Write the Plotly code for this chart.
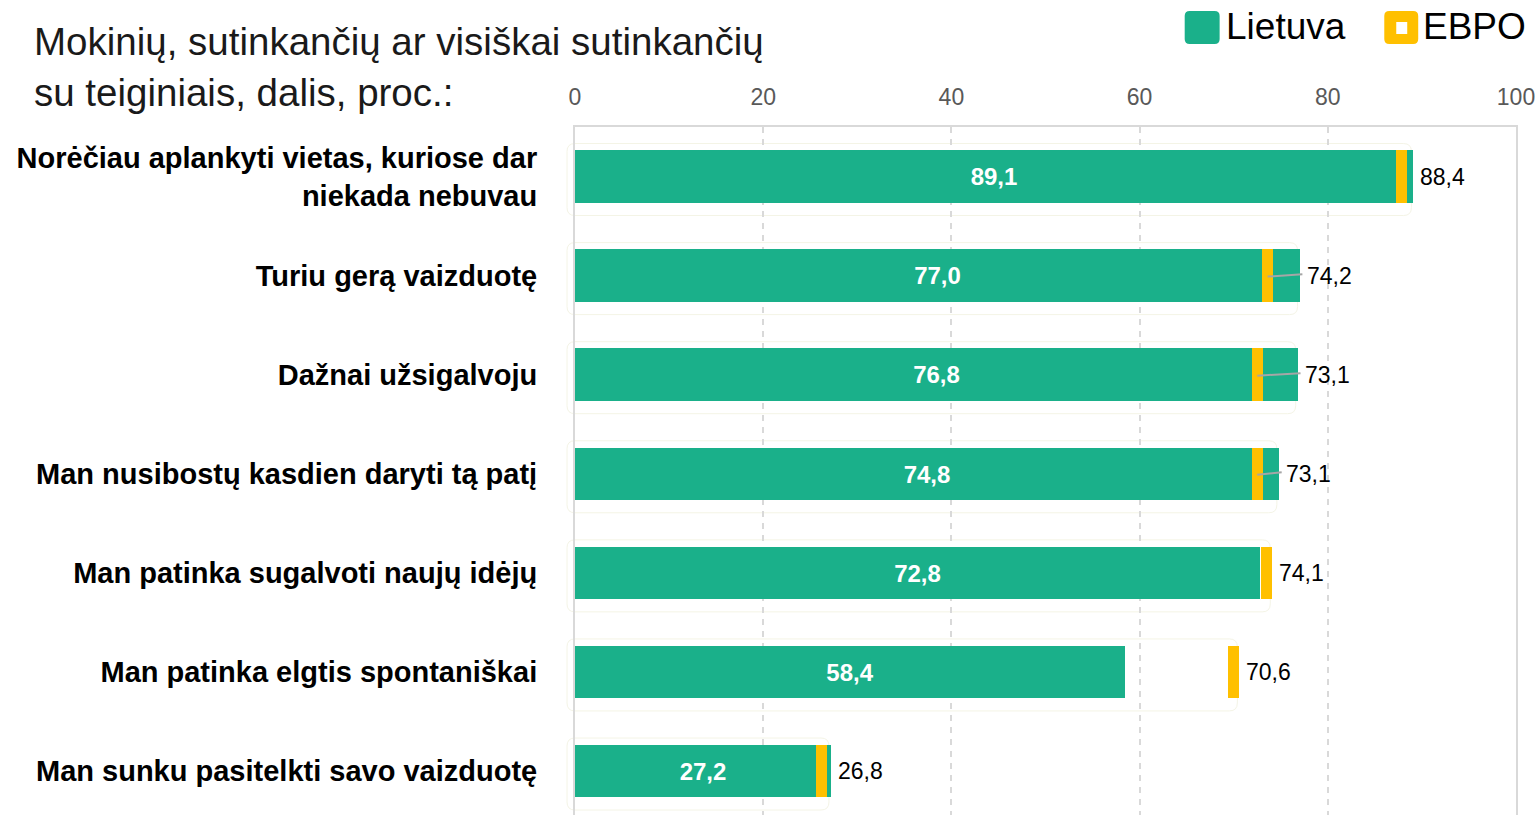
import plotly.graph_objects as go

# Survey statements (top to bottom) and shares of agreeing students, %
categories = [
    "Norėčiau aplankyti vietas, kuriose dar<br>niekada nebuvau",
    "Turiu gerą vaizduotę",
    "Dažnai užsigalvoju",
    "Man nusibostų kasdien daryti tą patį",
    "Man patinka sugalvoti naujų idėjų",
    "Man patinka elgtis spontaniškai",
    "Man sunku pasitelkti savo vaizduotę",
]
lietuva = [89.1, 77.0, 76.8, 74.8, 72.8, 58.4, 27.2]
ebpo = [88.4, 74.2, 73.1, 73.1, 74.1, 70.6, 26.8]
x_ticks = [0, 20, 40, 60, 80, 100]

GREEN = "#1AB08A"
YELLOW = "#FFC000"
GRID = "#D9D9D9"
FONT = "Liberation Sans, Arial, sans-serif"

W, H = 1535, 815
ML, MR, MT, MB = 575, 17, 127, 0
PW, PH = W - ML - MR, H - MT - MB
MARK_W = 1.2      # width of the OECD marker, in axis units
BAR_W = 0.53


def fmt(v):
    return f"{v:.1f}".replace(".", ",")


def px(x):
    """Screen x (px) -> paper x."""
    return (x - ML) / PW


def py(y):
    """Screen y (px, from top) -> paper y."""
    return (H - MB - y) / PH


def xval_px(v):
    """Axis value -> screen x (px)."""
    return ML + v / 100.0 * PW


def yrow_px(i):
    """Row index -> screen y (px) of the row centre."""
    y0, y1 = -0.5, 6.444
    return MT + (i - y0) / (y1 - y0) * PH


def rounded_path(x0, y0, x1, y1, r):
    """Rounded rectangle (screen px) as an SVG path in paper coords."""
    pts = [
        ("M", x0 + r, y0), ("L", x1 - r, y0), ("Q", x1, y0, x1, y0 + r),
        ("L", x1, y1 - r), ("Q", x1, y1, x1 - r, y1), ("L", x0 + r, y1),
        ("Q", x0, y1, x0, y1 - r), ("L", x0, y0 + r), ("Q", x0, y0, x0 + r, y0),
    ]
    out = []
    for p in pts:
        cmd, coords = p[0], p[1:]
        conv = []
        for k in range(0, len(coords), 2):
            conv.append(f"{px(coords[k]):.5f},{py(coords[k + 1]):.5f}")
        out.append(cmd + " ".join(conv))
    return " ".join(out) + " Z"


ypos = list(range(len(categories)))

fig = go.Figure()

fig.add_trace(go.Bar(
    y=ypos, x=lietuva, orientation="h", width=BAR_W,
    marker=dict(color=GREEN, line=dict(width=0)),
    text=[fmt(v) for v in lietuva], textposition="inside",
    insidetextanchor="middle", textangle=0,
    textfont=dict(family=FONT, size=24, color="white", weight="bold"),
    name="Lietuva", showlegend=False, hoverinfo="skip",
))

fig.add_trace(go.Bar(
    y=ypos, x=[MARK_W] * len(ebpo), base=[v - MARK_W for v in ebpo],
    orientation="h", width=BAR_W,
    marker=dict(color=YELLOW, line=dict(width=0)),
    name="EBPO", showlegend=False, hoverinfo="skip",
))

shapes = []
annotations = []

for i, (lt, eb) in enumerate(zip(lietuva, ebpo)):
    end = max(lt, eb)
    # faint rounded frame around each row
    yc = yrow_px(i)
    shapes.append(dict(
        type="path", xref="paper", yref="paper",
        path=rounded_path(567, yc - 33, xval_px(end) - 2, yc + 39, 8),
        line=dict(color="#F4F4E6", width=1), layer="below",
    ))
    # leader line from the OECD marker to its label
    if lt - eb > 1.0:
        shapes.append(dict(
            type="line", xref="x", yref="y",
            x0=eb - MARK_W / 2, y0=i + 0.01, x1=end + 0.3, y1=i - 0.015,
            line=dict(color="#A6A6A6", width=2), layer="above",
        ))
    annotations.append(dict(
        x=end, y=i, xref="x", yref="y", xanchor="left", yanchor="middle",
        xshift=5, text=fmt(eb), showarrow=False,
        font=dict(family=FONT, size=23, color="black"),
    ))

# title
for text, yc in (("Mokinių, sutinkančių ar visiškai sutinkančių", 42),
                 ("su teiginiais, dalis, proc.:", 92)):
    annotations.append(dict(
        x=px(31), y=py(yc), xref="paper", yref="paper", xanchor="left",
        yanchor="middle", showarrow=False, text=text,
        font=dict(family=FONT, size=38.5, color="#1A1A1A"),
    ))

# legend
shapes.append(dict(type="path", xref="paper", yref="paper",
                   path=rounded_path(1186, 11, 1221, 44, 5),
                   fillcolor=GREEN, line=dict(width=0)))
shapes.append(dict(type="path", xref="paper", yref="paper",
                   path=rounded_path(1386, 11, 1420, 44, 5),
                   fillcolor=YELLOW, line=dict(width=0)))
shapes.append(dict(type="rect", xref="paper", yref="paper",
                   x0=px(1398), x1=px(1409), y0=py(34), y1=py(22),
                   fillcolor="white", line=dict(width=0)))
for label, x0 in (("Lietuva", 1225), ("EBPO", 1423)):
    annotations.append(dict(
        x=px(x0), y=py(27), xref="paper", yref="paper", xanchor="left",
        yanchor="middle", showarrow=False, text=label,
        font=dict(family=FONT, size=37, color="black"),
    ))

fig.update_layout(
    width=W, height=H,
    margin=dict(l=ML, r=MR, t=MT, b=MB, pad=0),
    paper_bgcolor="white", plot_bgcolor="white",
    barmode="overlay", bargap=0,
    showlegend=False,
    shapes=shapes, annotations=annotations,
    xaxis=dict(
        side="top", range=[0, 100], tickvals=x_ticks,
        ticktext=[str(t) for t in x_ticks],
        tickfont=dict(family=FONT, size=23, color="#595959"),
        ticks="", ticklabelstandoff=11, ticklabeloverflow="allow",
        showgrid=True, gridcolor=GRID, gridwidth=1.5, griddash="6px,6px",
        zeroline=False, showline=True, linecolor=GRID, linewidth=2,
        fixedrange=True,
    ),
    yaxis=dict(
        range=[6.444, -0.5], tickvals=ypos, ticktext=categories,
        tickfont=dict(family=FONT, size=29, color="black", weight="bold"),
        ticks="", ticklabelstandoff=30,
        showgrid=False, zeroline=False,
        showline=True, mirror=True, linecolor=GRID, linewidth=2,
        fixedrange=True,
    ),
)

fig.write_html("out.html")
